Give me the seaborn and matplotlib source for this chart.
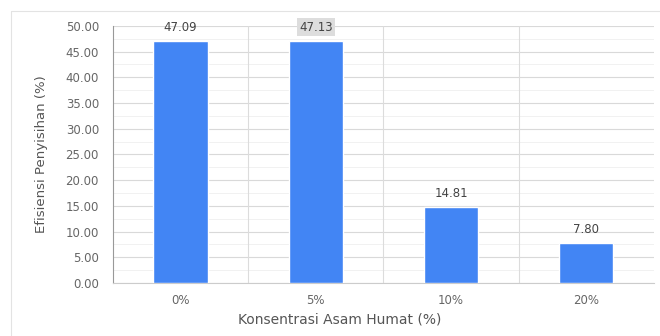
import matplotlib
matplotlib.use("Agg")
import matplotlib.pyplot as plt
import seaborn as sns
import pandas as pd
from matplotlib.lines import Line2D

konsentrasi = ["0%", "5%", "10%", "20%"]
efisiensi = [47.09, 47.13, 14.81, 7.80]
yticks = [0, 5, 10, 15, 20, 25, 30, 35, 40, 45, 50]

df = pd.DataFrame({"konsentrasi": konsentrasi, "efisiensi": efisiensi})

sns.set_style("white")
plt.rcParams["font.family"] = ["DejaVu Sans"]

fig = plt.figure(figsize=(6.6, 3.36), dpi=100)
ax = fig.add_axes([0.171, 0.158, 0.820, 0.765])

sns.barplot(data=df, x="konsentrasi", y="efisiensi", color="#4285F4",
            saturation=1, width=0.4, ax=ax, zorder=3)

ax.set_ylim(0, 50)
ax.set_xlim(-0.5, 3.5)
ax.set_yticks(yticks)
ax.set_yticklabels([f"{v:.2f}" for v in yticks])
ax.set_yticks([v + 2.5 for v in yticks[:-1]], minor=True)
ax.grid(which="major", axis="y", color="#d9d9d9", lw=0.8, zorder=0)
ax.grid(which="minor", axis="y", color="#efefef", lw=0.6, zorder=0)
for x in [0.5, 1.5, 2.5]:
    ax.axvline(x, color="#dcdcdc", lw=0.8, zorder=1)

ax.tick_params(axis="both", which="both", length=0, colors="#666666", labelsize=8.5)
ax.tick_params(axis="y", pad=10)
ax.tick_params(axis="x", pad=8)
for s in ["top", "right"]:
    ax.spines[s].set_visible(False)
ax.spines["left"].set_color("#999999")
ax.spines["left"].set_linewidth(0.8)
ax.spines["bottom"].set_color("#cccccc")
ax.spines["bottom"].set_linewidth(0.8)

ax.set_xlabel("Konsentrasi Asam Humat (%)", color="#555555", fontsize=10)
ax.xaxis.set_label_coords(0.42, -0.115)
ax.set_ylabel("Efisiensi Penyisihan (%)", color="#555555", fontsize=9.5)
ax.yaxis.set_label_coords(-0.12, 0.5)

for i, v in enumerate(efisiensi):
    kw = {}
    if i == 1:
        kw["bbox"] = dict(boxstyle="square,pad=0.2", fc="#dddddd", ec="none")
    ax.annotate(f"{v:.2f}", (i, v), xytext=(0, 5), textcoords="offset points",
                ha="center", va="bottom", fontsize=8.5, color="#444444", **kw)

# light frame around the chart (left and top edges visible)
fig.add_artist(Line2D([0.017, 1.0], [0.967, 0.967], transform=fig.transFigure,
                      color="#e3e3e3", lw=0.8))
fig.add_artist(Line2D([0.017, 0.017], [0.0, 0.967], transform=fig.transFigure,
                      color="#e3e3e3", lw=0.8))

fig.savefig("out.png", dpi=100)
